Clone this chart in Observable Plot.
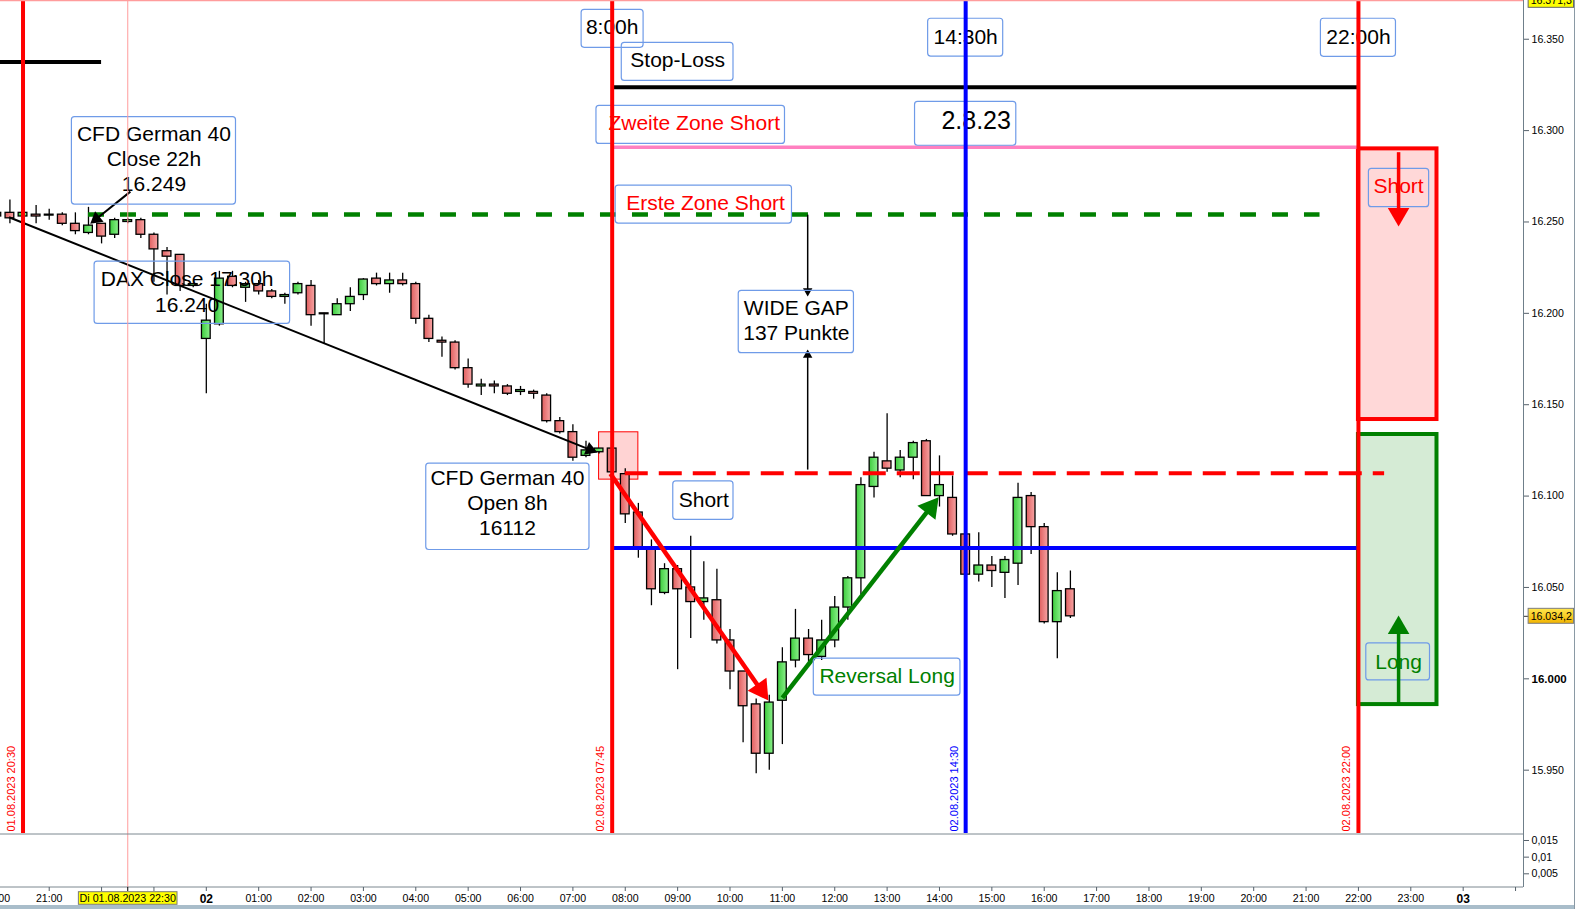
<!DOCTYPE html>
<html><head><meta charset="utf-8">
<script src="https://cdn.jsdelivr.net/npm/d3@7"></script>
<script src="https://cdn.jsdelivr.net/npm/@observablehq/plot@0.6"></script>
<style>
html,body{margin:0;padding:0;background:#fff;overflow:hidden}
#wrap{position:relative;width:1575px;height:909px}
#wrap svg{display:block}
#band{position:absolute;left:0;top:905px;width:1575px;height:4px;background:#a9bdca}
#edge{position:absolute;left:1574px;top:0;width:1px;height:909px;background:#8a99a4}
</style></head><body><div id="wrap"></div><script>
const parseT = d3.utcParse("%Y-%m-%d %H:%M");
const parseS = d3.utcParse("%Y-%m-%d %H:%M:%S");
const T = s => parseT(s);

// ---------- candles (15 min) ----------
const candleTime = [
"2023-08-01 20:00","2023-08-01 20:15","2023-08-01 20:30","2023-08-01 20:45","2023-08-01 21:00","2023-08-01 21:15","2023-08-01 21:30","2023-08-01 21:45",
"2023-08-01 22:00","2023-08-01 22:15","2023-08-01 22:30","2023-08-01 22:45","2023-08-01 23:00","2023-08-01 23:15","2023-08-01 23:30","2023-08-01 23:45",
"2023-08-02 00:00","2023-08-02 00:15","2023-08-02 00:30","2023-08-02 00:45","2023-08-02 01:00","2023-08-02 01:15","2023-08-02 01:30","2023-08-02 01:45",
"2023-08-02 02:00","2023-08-02 02:15","2023-08-02 02:30","2023-08-02 02:45","2023-08-02 03:00","2023-08-02 03:15","2023-08-02 03:30","2023-08-02 03:45",
"2023-08-02 04:00","2023-08-02 04:15","2023-08-02 04:30","2023-08-02 04:45","2023-08-02 05:00","2023-08-02 05:15","2023-08-02 05:30","2023-08-02 05:45",
"2023-08-02 06:00","2023-08-02 06:15","2023-08-02 06:30","2023-08-02 06:45","2023-08-02 07:00","2023-08-02 07:15","2023-08-02 07:30","2023-08-02 07:45",
"2023-08-02 08:00","2023-08-02 08:15","2023-08-02 08:30","2023-08-02 08:45","2023-08-02 09:00","2023-08-02 09:15","2023-08-02 09:30","2023-08-02 09:45",
"2023-08-02 10:00","2023-08-02 10:15","2023-08-02 10:30","2023-08-02 10:45","2023-08-02 11:00","2023-08-02 11:15","2023-08-02 11:30","2023-08-02 11:45",
"2023-08-02 12:00","2023-08-02 12:15","2023-08-02 12:30","2023-08-02 12:45","2023-08-02 13:00","2023-08-02 13:15","2023-08-02 13:30","2023-08-02 13:45",
"2023-08-02 14:00","2023-08-02 14:15","2023-08-02 14:30","2023-08-02 14:45","2023-08-02 15:00","2023-08-02 15:15","2023-08-02 15:30","2023-08-02 15:45",
"2023-08-02 16:00","2023-08-02 16:15","2023-08-02 16:30"];
const candleOpen = [16253,16255,16253,16254,16253.5,16254,16249,16244,16249,16243,16250,16251,16243,16234,16232,16215,
16186,16194,16220,16214,16216,16212,16209,16211,16215,16200,16199,16205,16210,16219,16216,16218,
16216,16197,16185,16184,16170,16160,16161,16160,16157,16157,16155,16141,16135,16122,16124,16126,
16112,16091,16071,16047,16060,16050,16042,16043,16021,16004,15986,15959,15988,16010,16022,16012,
16021,16039,16055,16105,16119,16114,16121,16130,16100,16099,16079,16057,16062,16058,16063,16100,
16083,16031,16049];
const candleHigh = [16256,16262,16255,16259,16257,16255,16255,16258,16249,16252,16252,16252,16244,16236,16232,16216,
16205,16223,16223,16217,16218,16213,16211,16217,16218,16200,16208,16214,16219,16222,16222,16222,
16217,16199,16187,16185,16175,16164,16163,16161,16160,16158,16156,16143,16139,16130,16126,16142,
16115,16096,16076,16063,16062,16078,16064,16060,16027,16004,15989,15991,16017,16038,16027,16032,
16045,16056,16110,16124,16145,16125,16130,16131,16122,16111,16080,16080,16067,16067,16107,16102,
16085,16058,16059];
const candleLow = [16252,16249,16252,16249,16251,16248,16243,16243,16238,16241,16249,16241,16217,16210,16212,16214,
16156,16193,16214,16206,16210,16208,16205,16210,16193,16183,16199,16201,16207,16215,16211,16215,
16194,16184,16176,16169,16159,16155,16156,16155,16155,16153,16140,16134,16119,16121,16123,16112,
16085,16066,16040,16046,16005,16022,16032,16019,15994,15965,15948,15950,15964,16006,16009,16010,
16017,16032,16046,16099,16113,16110,16109,16100,16094,16078,16057,16053,16050,16044,16051,16068,
16030,16011,16033];
const candleClose = [16255,16252,16255,16253,16254,16249,16245,16248,16242,16251,16251,16243,16235,16231,16215,16216,
16196,16219,16215,16216,16212,16209,16210,16216,16199,16199.5,16205,16209,16218.5,16216,16218,16216,
16197,16186,16184,16170,16161,16161,16160,16156,16158,16156,16141,16135,16121,16125,16126,16113,
16090,16072,16049,16060,16049,16042,16044,16021,16004,15985,15959,15987,16009,16022,16013,16021,
16039,16055,16106,16121,16115,16121,16129,16100,16106,16079,16057,16062,16059,16065,16099,16083,
16031,16048,16034.2];

// ---------- horizontal levels ----------
const levelName  = ["Linie","Stop-Loss","Zweite Zone Short","Erste Zone Short","Open 8h","Linie 14:30"];
const levelPrice = [16337.6,16323.7,16290.9,16254.1,16112.5,16071.6];
const levelStart = ["2023-08-01 20:00","2023-08-02 07:45","2023-08-02 07:45","2023-08-01 21:45","2023-08-02 08:00","2023-08-02 07:45"];
const levelEnd   = ["2023-08-01 22:00","2023-08-02 22:00","2023-08-02 22:00","2023-08-02 21:16","2023-08-02 22:30","2023-08-02 22:00"];

// ---------- vertical time lines ----------
const vlineTime  = ["2023-08-01 20:30","2023-08-02 07:45","2023-08-02 14:30","2023-08-02 22:00"];
const vlineLabel = ["01.08.2023 20:30","02.08.2023 07:45","02.08.2023 14:30","02.08.2023 22:00"];

// ---------- text boxes ----------
const boxText = ["CFD German 40\nClose 22h\n16.249","DAX Close 17:30h\n16.240","CFD German 40\nOpen 8h\n16112","8:00h","14:30h","22:00h",
  "Stop-Loss","Zweite Zone Short","2.8.23","Erste Zone Short","WIDE GAP\n137 Punkte","Short","Reversal Long","Short ","Long"];
const boxStart = ["2023-08-01 21:26","2023-08-01 21:52","2023-08-02 04:12","2023-08-02 07:10","2023-08-02 13:47","2023-08-02 21:17",
  "2023-08-02 07:56","2023-08-02 07:27","2023-08-02 13:32","2023-08-02 07:49","2023-08-02 10:10","2023-08-02 08:55","2023-08-02 11:36","2023-08-02 22:12","2023-08-02 22:09"];
const boxEnd = ["2023-08-02 00:34","2023-08-02 01:36","2023-08-02 07:19","2023-08-02 08:21","2023-08-02 15:13","2023-08-02 22:43",
  "2023-08-02 10:04","2023-08-02 11:03","2023-08-02 15:28","2023-08-02 11:11","2023-08-02 12:22","2023-08-02 10:04","2023-08-02 14:24","2023-08-02 23:21","2023-08-02 23:22"];
const boxTop = [16307.4,16228.3,16117.8,16366.1,16361.2,16361.2,16348.0,16313.5,16315.7,16269.9,16212.3,16108.0,16011.1,16279.1,16019.4];
const boxBottom = [16259.5,16194.2,16070.5,16345.3,16340.5,16340.4,16327.2,16292.7,16291.7,16249.1,16178.2,16087.0,15990.8,16258.1,15999.1];
const textTime = ["2023-08-01 23:00","2023-08-01 23:38","2023-08-02 05:45","2023-08-02 07:45","2023-08-02 14:30","2023-08-02 22:00",
  "2023-08-02 09:00","2023-08-02 09:19","2023-08-02 14:42","2023-08-02 09:32","2023-08-02 11:16","2023-08-02 09:30","2023-08-02 13:00","2023-08-02 22:46","2023-08-02 22:46"];
const textPrice = [16285.0,16212.3,16096.9,16357.4,16352.0,16352.0,16339.1,16303.9,16305.2,16260.1,16196.7,16098.7,16001.3,16269.4,16009.2];

// ---------- zones ----------
const zoneName = ["Short","Long"];
const zoneStart = ["2023-08-02 22:00","2023-08-02 22:00"];
const zoneEnd = ["2023-08-02 23:30","2023-08-02 23:30"];
const zoneTop = [16290.0,16133.7];
const zoneBottom = [16141.9,15985.9];
const openBoxStart = "2023-08-02 07:30", openBoxEnd = "2023-08-02 08:15";
const openBoxTop = 16134.9, openBoxBottom = 16109.0;

// ---------- arrows ----------
const arrowName = ["Trend","Close","Short","Reversal","GapDown","GapUp","ZoneShort","ZoneLong"];
const arrowStart = ["2023-08-01 20:14","2023-08-01 22:33","2023-08-02 07:43","2023-08-02 11:00","2023-08-02 11:29","2023-08-02 11:29","2023-08-02 22:46","2023-08-02 22:46"];
const arrowStartPrice = [16252.6,16266.6,16112.2,15989.6,16254.0,16114.5,16288.2,15985.9];
const arrowEnd = ["2023-08-02 07:28","2023-08-01 21:47","2023-08-02 10:44","2023-08-02 13:59","2023-08-02 11:29","2023-08-02 11:29","2023-08-02 22:46","2023-08-02 22:46"];
const arrowEndPrice = [16123.8,16249.0,15988.1,16099.4,16209.2,16180.2,16247.5,16034.7];

// ---------- axes ----------
const priceTicks = [15950,16050,16100,16150,16200,16250,16300,16350];
const boldPriceTicks = [16000];
const lastPrice = 16034.2, crossPrice = 16371.3;
const crossTime = "2023-08-01 22:30";
const crossLabel = "Di 01.08.2023 22:30";
const indTicks = [0.005,0.01,0.015];

// ---------- styles ----------
const FONT = "'Liberation Sans', Arial, sans-serif";
const RED = "#ff0000", GREEN = "#008000", BLUE = "#0000ff", BOXC = "#6f9be8";
const levelStyle = [
  {stroke:"#000", w:4}, {stroke:"#000", w:4}, {stroke:"#ff80c0", w:3.6},
  {stroke:GREEN, w:4.5, dash:"16,16"}, {stroke:RED, w:4, dash:"23,11"}, {stroke:BLUE, w:4}];
const vlineColor = [RED, RED, BLUE, RED];
const textColor = {"Zweite Zone Short":RED,"Erste Zone Short":RED,"Short ":RED,"Reversal Long":GREEN,"Long":GREEN};
const textSize = {"2.8.23":25};
const arrowStyle = [
  {c:"#000", w:2, r:5}, {c:"#000", w:2, r:5}, {c:RED, w:4.5, r:8.5}, {c:GREEN, w:4.5, r:8.5},
  {c:"#000", w:1.5, r:3.5}, {c:"#000", w:1.5, r:3.5}, {c:RED, w:3.5, r:8}, {c:GREEN, w:3.5, r:8}];

// ---------- scales ----------
const xDomain = [parseS("2023-08-01 20:04:12"), parseS("2023-08-03 01:09:07")];
const yDomain = [15915.35, 16371.2];
const y2Domain = [0.000886, 0.0171];
const xs = Plot.scale({x: {type: "utc", domain: xDomain, range: [0, 1523]}});
const ys = Plot.scale({y: {type: "linear", domain: yDomain, range: [833, 0]}});

const de = d3.formatLocale({decimal: ",", thousands: ".", grouping: [3], currency: ["", "€"]});
const fmtInt = de.format(",d"), fmt1 = de.format(",.1f");

// ---------- tables ----------
const candles = candleTime.map((s, i) => ({t: T(s), o: candleOpen[i], h: candleHigh[i], l: candleLow[i], c: candleClose[i]}));
const up = candles.filter(d => d.c >= d.o), down = candles.filter(d => d.c < d.o);
const bx1 = d => d3.utcMinute.offset(d.t, -5), bx2 = d => d3.utcMinute.offset(d.t, 5);

const boxes = boxText.map((text, i) => ({text, x1: T(boxStart[i]), x2: T(boxEnd[i]), y1: boxTop[i], y2: boxBottom[i], tx: T(textTime[i]), ty: textPrice[i]}));
const vlines = vlineTime.map((s, i) => ({t: T(s), label: vlineLabel[i], i}));
const zones = zoneName.map((name, i) => ({name, x1: T(zoneStart[i]), x2: T(zoneEnd[i]), y1: zoneTop[i], y2: zoneBottom[i]}));

const arrows = arrowName.map((name, i) => {
  const st = arrowStyle[i];
  const x1 = T(arrowStart[i]), x2 = T(arrowEnd[i]);
  const px1 = xs.apply(x1), py1 = ys.apply(arrowStartPrice[i]);
  const px2 = xs.apply(x2), py2 = ys.apply(arrowEndPrice[i]);
  const L = Math.hypot(px2 - px1, py2 - py1), ux = (px2 - px1) / L, uy = (py2 - py1) / L;
  const k = Math.sqrt(Math.PI * st.r * st.r / (3 * Math.sqrt(3)));
  return {name, st,
    x1, y1: arrowStartPrice[i],
    x2: xs.invert(px2 - 2.6 * k * ux), y2: ys.invert(py2 - 2.6 * k * uy),
    hx: xs.invert(px2 - 2 * k * ux), hy: ys.invert(py2 - 2 * k * uy),
    rot: Math.atan2(ux, -uy) * 180 / Math.PI};
});

const arrowMarks = a => [
  Plot.link([a], {x1: "x1", y1: "y1", x2: "x2", y2: "y2", stroke: a.st.c, strokeWidth: a.st.w}),
  Plot.dot([a], {x: "hx", y: "hy", symbol: "triangle", r: a.st.r, rotate: a.rot, fill: a.st.c, stroke: "none"})
];

const levelMarks = levelName.map((name, i) => Plot.ruleY([levelPrice[i]], {
  x1: T(levelStart[i]), x2: T(levelEnd[i]), stroke: levelStyle[i].stroke, strokeWidth: levelStyle[i].w,
  strokeDasharray: levelStyle[i].dash }));

const plainBoxes = boxes.filter(b => !textColor[b.text] && !textSize[b.text]);
const redBoxes = boxes.filter(b => textColor[b.text] === RED);
const greenBoxes = boxes.filter(b => textColor[b.text] === GREEN);
const bigBoxes = boxes.filter(b => textSize[b.text]);
const bigArrowNames = ["Short", "Reversal"], zoneArrowNames = ["ZoneShort", "ZoneLong"];

const svg1 = Plot.plot({
  width: 1575, height: 833, marginLeft: 0, marginRight: 52, marginTop: 0, marginBottom: 0,
  style: {fontFamily: FONT, fontSize: "11px", background: "#ffffff", color: "#000", overflow: "hidden"},
  x: {type: "utc", domain: xDomain, axis: null},
  y: {type: "linear", domain: yDomain},
  marks: [
    // open box (pink square)
    Plot.rect([0], {x1: T(openBoxStart), x2: T(openBoxEnd), y1: openBoxTop, y2: openBoxBottom, fill: "#ffd3d3", stroke: RED, strokeWidth: 1}),
    // zones
    Plot.rect(zones.filter(z => z.name === "Short"), {x1: "x1", x2: "x2", y1: "y1", y2: "y2", fill: "#ffd8d8", stroke: RED, strokeWidth: 4}),
    Plot.rect(zones.filter(z => z.name === "Long"), {x1: "x1", x2: "x2", y1: "y1", y2: "y2", fill: "#d5ebd5", stroke: GREEN, strokeWidth: 4}),
    // candles
    Plot.ruleX(candles, {x: "t", y1: "l", y2: "h", stroke: "#000", strokeWidth: 1.3}),
    Plot.rect(down, {x1: bx1, x2: bx2, y1: "o", y2: "c", fill: "url(#gDown)", stroke: "#000", strokeWidth: 1.3}),
    Plot.rect(up, {x1: bx1, x2: bx2, y1: "o", y2: "c", fill: "url(#gUp)", stroke: "#000", strokeWidth: 1.3}),
    // levels
    ...levelMarks,
    // thin arrows
    ...arrows.filter(a => !bigArrowNames.includes(a.name) && !zoneArrowNames.includes(a.name)).flatMap(arrowMarks),
    ...arrows.filter(a => bigArrowNames.includes(a.name)).flatMap(arrowMarks),
    // text boxes
    Plot.rect(boxes, {x1: "x1", x2: "x2", y1: "y1", y2: "y2", fill: "none", stroke: BOXC, strokeWidth: 1.2, rx: 3}),
    Plot.text(plainBoxes, {x: "tx", y: "ty", text: "text", fill: "#000", fontSize: 21, lineHeight: 1.2, fontFamily: FONT}),
    Plot.text(redBoxes, {x: "tx", y: "ty", text: d => d.text.trim(), fill: RED, fontSize: 21, fontFamily: FONT}),
    Plot.text(greenBoxes, {x: "tx", y: "ty", text: "text", fill: GREEN, fontSize: 21, fontFamily: FONT}),
    Plot.text(bigBoxes, {x: "tx", y: "ty", text: "text", fill: "#000", fontSize: 25, fontFamily: FONT}),
    // vertical lines
    Plot.ruleX(vlines.filter(v => vlineColor[v.i] === RED), {x: "t", stroke: RED, strokeWidth: 4}),
    Plot.ruleX(vlines.filter(v => vlineColor[v.i] === BLUE), {x: "t", stroke: BLUE, strokeWidth: 4}),
    Plot.text(vlines.filter(v => vlineColor[v.i] === RED), {x: "t", text: "label", frameAnchor: "bottom", rotate: -90, textAnchor: "start", dx: -8, dy: -2, fill: RED, fontSize: 11}),
    Plot.text(vlines.filter(v => vlineColor[v.i] === BLUE), {x: "t", text: "label", frameAnchor: "bottom", rotate: -90, textAnchor: "start", dx: -8, dy: -2, fill: BLUE, fontSize: 11}),
    // zone arrows
    ...arrows.filter(a => zoneArrowNames.includes(a.name)).flatMap(arrowMarks),
    // crosshair
    Plot.ruleX([T(crossTime)], {stroke: "#ff9c9c", strokeWidth: 1}),
    Plot.ruleY([crossPrice], {x1: xDomain[0], x2: xDomain[1], stroke: "#ff9c9c", strokeWidth: 2}),
    // right axis
    Plot.ruleX([xDomain[1]], {stroke: "#6f7f8a", strokeWidth: 1}),
    Plot.axisY({anchor: "right", ticks: priceTicks, tickFormat: fmtInt, tickSize: 5, tickPadding: 3, fontSize: 10.6, stroke: "#55606a"}),
    Plot.axisY({anchor: "right", ticks: boldPriceTicks, tickFormat: fmtInt, tickSize: 5, tickPadding: 3, fontSize: 11.5, fontWeight: "bold", stroke: "#55606a"}),
    Plot.axisY({anchor: "right", ticks: [lastPrice], tickFormat: () => "", tickSize: 5, stroke: "#333"}),
    // price labels
    Plot.rect([0], {x1: T("2023-08-03 01:15"), x2: T("2023-08-03 02:07"), y1: lastPrice + 4.1, y2: lastPrice - 4.1, fill: "url(#gPrice)", stroke: "#7d7d7d", strokeWidth: 1}),
    Plot.text([fmt1(lastPrice)], {x: T("2023-08-03 01:15"), y: lastPrice, text: d => d, textAnchor: "start", dx: 2, fontSize: 10.6, fill: "#000"}),
    Plot.rect([0], {x1: T("2023-08-03 01:15"), x2: T("2023-08-03 02:07"), y1: crossPrice + 4.1, y2: crossPrice - 4.1, fill: "#ffff00", stroke: "#666", strokeWidth: 1}),
    Plot.text([fmt1(crossPrice)], {x: T("2023-08-03 01:15"), y: crossPrice, text: d => d, textAnchor: "start", dx: 2, fontSize: 10.6, fill: "#000"})
  ]
});

// gradients
const defs = d3.select(svg1).insert("defs", ":first-child");
function grad(id, c1, c2, vertical) {
  const g = defs.append("linearGradient").attr("id", id)
    .attr("x1", 0).attr("y1", 0).attr("x2", vertical ? 0 : 1).attr("y2", vertical ? 1 : 0);
  g.append("stop").attr("offset", "0").attr("stop-color", c1);
  g.append("stop").attr("offset", "1").attr("stop-color", c2);
}
grad("gDown", "#e05f5f", "#f7a4a4");
grad("gUp", "#3ccc3c", "#8cf08c");
grad("gPrice", "#ffe64d", "#f2b400", true);

// ---------- indicator panel + time axis ----------
const hourTicks = d3.utcHour.range(T("2023-08-01 20:00"), T("2023-08-03 02:00")).filter(d => d.getUTCHours() !== 0);
const dayTicks = [T("2023-08-02 00:00"), T("2023-08-03 00:00")];
const hiddenHours = [+T("2023-08-01 22:00"), +T("2023-08-01 23:00"), +T("2023-08-03 01:00")];
const svg2 = Plot.plot({
  width: 1575, height: 76, marginLeft: 0, marginRight: 52, marginTop: 0, marginBottom: 22,
  style: {fontFamily: FONT, fontSize: "11px", background: "#ffffff", color: "#000", overflow: "hidden"},
  x: {type: "utc", domain: xDomain},
  y: {type: "linear", domain: y2Domain},
  marks: [
    Plot.ruleX([T(crossTime)], {stroke: "#ff9c9c", strokeWidth: 1}),
    Plot.ruleY([y2Domain[1]], {stroke: "#7d8890", dy: 0.5}),
    Plot.ruleY([y2Domain[0]], {stroke: "#7d8890", dy: -0.5}),
    Plot.ruleX([xDomain[1]], {stroke: "#6f7f8a"}),
    Plot.axisY({anchor: "right", ticks: indTicks, tickFormat: d => String(d).replace(".", ","), tickSize: 5, tickPadding: 3, fontSize: 10.6, stroke: "#55606a"}),
    Plot.axisX({anchor: "bottom", ticks: hourTicks, tickFormat: d => hiddenHours.includes(+d) ? "" : d3.utcFormat("%H:%M")(d), tickSize: 4, tickPadding: 3, fontSize: 10.6, stroke: "#55606a"}),
    Plot.axisX({anchor: "bottom", ticks: dayTicks, tickFormat: d3.utcFormat("%d"), tickSize: 4, tickPadding: 3, fontSize: 12, fontWeight: "bold", stroke: "#55606a"}),
    Plot.axisX({anchor: "bottom", ticks: [T(crossTime)], tickFormat: () => "", tickSize: 4, stroke: "#000"}),
    Plot.rect([0], {x1: T("2023-08-01 21:34"), x2: T("2023-08-01 23:27"), y1: -0.000525, y2: -0.004308, fill: "#ffff00", stroke: "#7a7a7a", strokeWidth: 1}),
    Plot.text([crossLabel], {x: T(crossTime), y: -0.002417, text: d => d, fontSize: 10.7, fill: "#000"})
  ]
});

const wrap = document.getElementById("wrap");
wrap.appendChild(svg1);
wrap.appendChild(svg2);
const band = document.createElement("div"); band.id = "band"; wrap.appendChild(band);
const edge = document.createElement("div"); edge.id = "edge"; wrap.appendChild(edge);
</script></body></html>
